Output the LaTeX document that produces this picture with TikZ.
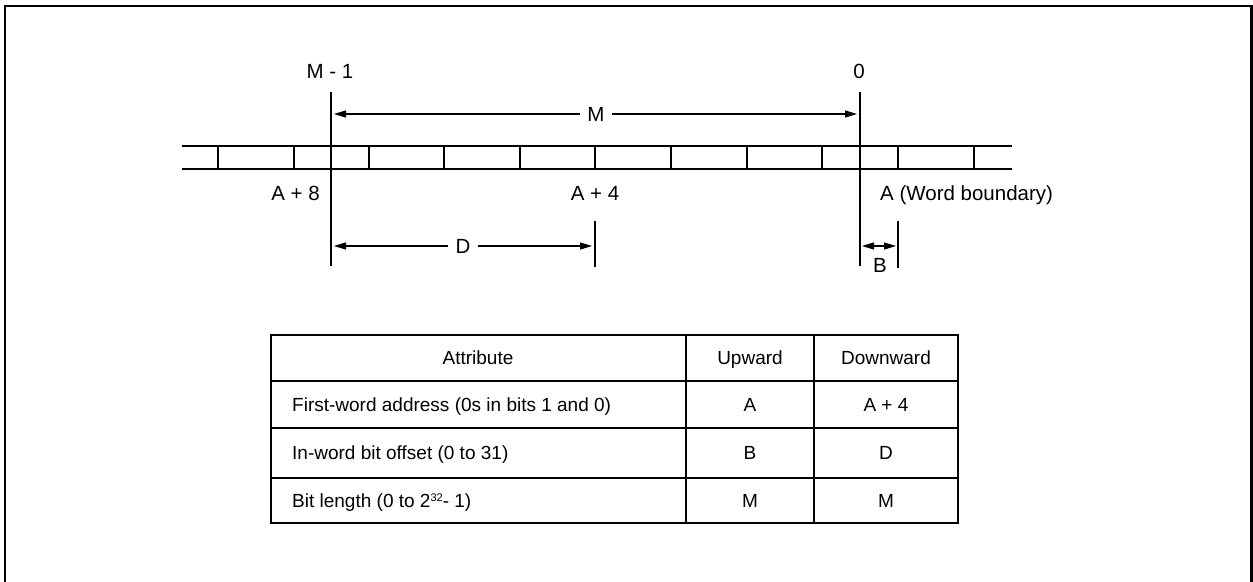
\documentclass[tikz,border=0pt]{standalone}
\usepackage{fontspec}
\setmainfont{Liberation Sans}
\usetikzlibrary{arrows.meta}
\begin{document}
\begin{tikzpicture}[x=1pt,y=-1pt,
 ln/.style={line width=1.2pt},
 tip/.tip={Triangle[length=12pt,width=7pt]},
 arr/.style={line width=1.2pt,-tip,shorten >=3pt},
 lbl/.style={font=\fontsize{20.5}{24}\selectfont, inner sep=0pt, text height=14.7pt, text depth=0pt},
 cell/.style={font=\fontsize{19}{22}\selectfont, inner sep=0pt, text height=13.6pt, text depth=0pt}
]
\useasboundingbox (0,0) rectangle (1253,581);
% outer frame
\draw[line width=2.2pt] (5,600) -- (5,6) -- (1251.5,6) -- (1251.5,600);

% bit bar
\draw[ln] (182,146) -- (1012,146) (182,169) -- (1012,169);
\foreach \x in {218,294,369,444,520,595,671,747,822,898,974}
  \draw[ln] (\x,146) -- (\x,169);

% vertical reference lines
\coordinate (m1top) at (331,92);  \coordinate (m1bot) at (331,266);
\coordinate (z0top) at (860,92);  \coordinate (z0bot) at (860,266);
\coordinate (dtop)  at (595,221); \coordinate (dbot)  at (595,267);
\coordinate (btop)  at (898,221); \coordinate (bbot)  at (898,268);
\draw[ln] (m1top) -- (m1bot);
\draw[ln] (z0top) -- (z0bot);
\draw[ln] (dtop) -- (dbot);
\draw[ln] (btop) -- (bbot);

% labels
\node[lbl] (lm1) at (330,71) {M - 1};
\node[lbl] (l0) at (859,71) {0};
\node[lbl,anchor=east] (la8) at (320,193) {A + 8};
\node[lbl] (la4) at (595,193) {A + 4};
\node[lbl,anchor=west] (lA) at (880,193) {A (Word boundary)};

% M arrow
\node[lbl,inner xsep=7pt] (lM) at (596,114) {M};
\coordinate (Ml) at (331,114); \coordinate (Mr) at (860,114);
\draw[arr] (lM.west) -- (Ml);
\draw[arr] (lM.east) -- (Mr);

% D arrow
\node[lbl,inner xsep=7pt] (lD) at (463,246) {D};
\coordinate (Dl) at (331,246); \coordinate (Dr) at (595,246);
\draw[arr] (lD.west) -- (Dl);
\draw[arr] (lD.east) -- (Dr);

% B arrow
\coordinate (Bl) at (860,246); \coordinate (Br) at (898,246);
\draw[line width=1.2pt,tip-tip,shorten >=2pt,shorten <=2pt] (Bl) -- (Br);
\node[lbl] (lB) at (880,265) {B};

% table
\draw[line width=2pt] (271,335) rectangle (958,523);
\draw[line width=2.6pt] (271,381) -- (958,381);
\draw[line width=1.3pt] (271,428) -- (958,428) (271,478) -- (958,478);
\draw[line width=1.5pt] (686,335) -- (686,523) (814,335) -- (814,523);

\node[cell] (h1) at (478,358) {Attribute};
\node[cell] (h2) at (750,358) {Upward};
\node[cell] (h3) at (886,358) {Downward};
\node[cell,anchor=west] (r1) at (292,404.5) {First-word address (0s in bits 1 and 0)};
\node[cell] (r1u) at (750,404.5) {A};
\node[cell] (r1d) at (886,404.5) {A + 4};
\node[cell,anchor=west] (r2) at (292,453) {In-word bit offset (0 to 31)};
\node[cell] (r2u) at (750,453) {B};
\node[cell] (r2d) at (886,453) {D};
\node[cell,anchor=west] (r3) at (292,500.5) {Bit length (0 to 2\raisebox{6pt}{\fontsize{11}{11}\selectfont 32}- 1)};
\node[cell] (r3u) at (750,500.5) {M};
\node[cell] (r3d) at (886,500.5) {M};
\end{tikzpicture}
\end{document}
